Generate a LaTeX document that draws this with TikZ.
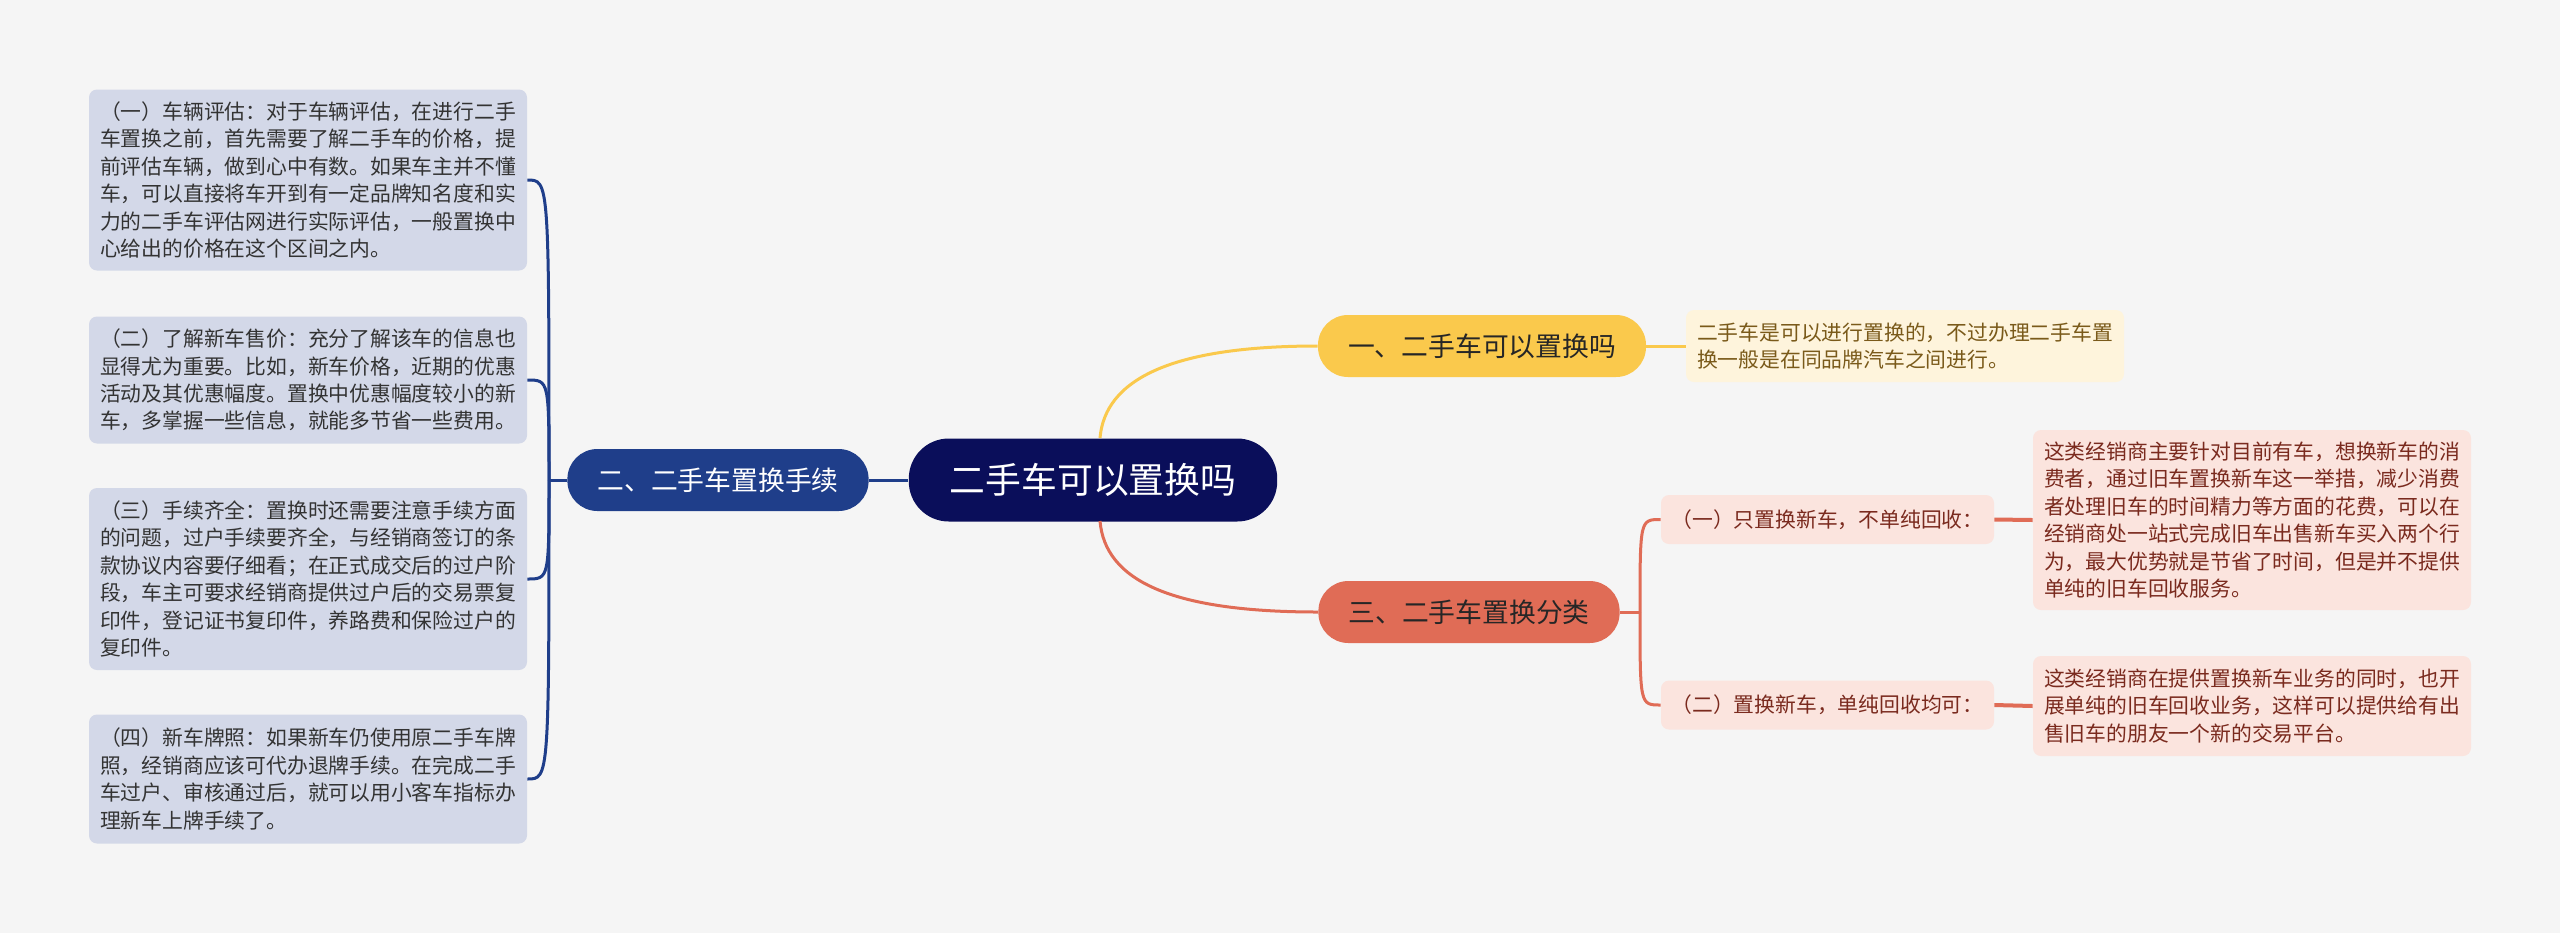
\documentclass[tikz,border=0pt]{standalone}
\usepackage{fontspec}
\setmainfont{Noto Sans CJK SC}
\usetikzlibrary{calc}
\definecolor{bgcol}{HTML}{F5F5F5}
\definecolor{rootcol}{HTML}{0A0E5A}
\definecolor{navycol}{HTML}{1F3E8A}
\definecolor{leafnavy}{HTML}{D3D8E8}
\definecolor{yelcol}{HTML}{FAC94C}
\definecolor{leafyel}{HTML}{FEF4DC}
\definecolor{redcol}{HTML}{E06C56}
\definecolor{leafred}{HTML}{FBE4DE}
\definecolor{txtdark}{HTML}{333333}
\definecolor{txtbrown}{HTML}{7A5A1A}
\definecolor{txtred}{HTML}{7A2A1E}

\begin{document}
\begin{tikzpicture}[x=0.5pt, y=-0.5pt,
  pill/.style={rounded corners=15pt, inner xsep=15pt, minimum height=31pt, font=\fontsize{13.4pt}{16pt}\selectfont},
  leafbox/.style={rounded corners=4pt, inner xsep=5.5pt, inner ysep=0pt, text width=208pt, align=left, font=\fontsize{10.4pt}{13.7pt}\selectfont},
  subbox/.style={rounded corners=4pt, fill=leafred, text=txtred, inner xsep=5.25pt, minimum height=24.5pt, font=\fontsize{10.4pt}{13.7pt}\selectfont},
  navyline/.style={draw=navycol, line width=1.5pt},
  yelline/.style={draw=yelcol, line width=1.5pt},
  redline/.style={draw=redcol, line width=1.5pt}]
	\fill[bgcol] (0,0) rectangle (2560,933);
	\useasboundingbox (0,0) rectangle (2560,933);
	\node[fill=rootcol, text=white, rounded corners=20pt, inner xsep=20.5pt, minimum height=41.5pt, font=\fontsize{17.9pt}{20pt}\selectfont] (root) at (1093,480) {二手车可以置换吗};
	\node[pill, fill=yelcol, text=black!85] (b1) at (1482,346) {一、二手车可以置换吗};
	\node[pill, fill=navycol, text=white] (b2) at (718,480) {二、二手车置换手续};
	\node[pill, fill=redcol, text=black!85] (b3) at (1469,612) {三、二手车置换分类};
	\node[leafbox, fill=leafyel, text=txtbrown, minimum height=36pt] (d1) at (1905,346) {二手车是可以进行置换的，不过办理二手车置\\换一般是在同品牌汽车之间进行。};
	\node[leafbox, fill=leafnavy, text=txtdark, minimum height=90.5pt] (l1) at (308,180) {（一）车辆评估：对于车辆评估，在进行二手\\车置换之前，首先需要了解二手车的价格，提\\前评估车辆，做到心中有数。如果车主并不懂\\车，可以直接将车开到有一定品牌知名度和实\\力的二手车评估网进行实际评估，一般置换中\\心给出的价格在这个区间之内。};
	\node[leafbox, fill=leafnavy, text=txtdark, minimum height=63.5pt] (l2) at (308,380) {（二）了解新车售价：充分了解该车的信息也\\显得尤为重要。比如，新车价格，近期的优惠\\活动及其优惠幅度。置换中优惠幅度较小的新\\车，多掌握一些信息，就能多节省一些费用。};
	\node[leafbox, fill=leafnavy, text=txtdark, minimum height=91pt] (l3) at (308,579) {（三）手续齐全：置换时还需要注意手续方面\\的问题，过户手续要齐全，与经销商签订的条\\款协议内容要仔细看；在正式成交后的过户阶\\段，车主可要求经销商提供过户后的交易票复\\印件，登记证书复印件，养路费和保险过户的\\复印件。};
	\node[leafbox, fill=leafnavy, text=txtdark, minimum height=64.5pt] (l4) at (308,779) {（四）新车牌照：如果新车仍使用原二手车牌\\照，经销商应该可代办退牌手续。在完成二手\\车过户、审核通过后，就可以用小客车指标办\\理新车上牌手续了。};
	\node[subbox] (s1) at (1827.5,519.5) {（一）只置换新车，不单纯回收：};
	\node[subbox] (s2) at (1827.5,705) {（二）置换新车，单纯回收均可：};
	\node[leafbox, fill=leafred, text=txtred, minimum height=90pt] (d31) at (2252,520) {这类经销商主要针对目前有车，想换新车的消\\费者，通过旧车置换新车这一举措，减少消费\\者处理旧车的时间精力等方面的花费，可以在\\经销商处一站式完成旧车出售新车买入两个行\\为，最大优势就是节省了时间，但是并不提供\\单纯的旧车回收服务。};
	\node[leafbox, fill=leafred, text=txtred, minimum height=50pt] (d32) at (2252,706) {这类经销商在提供置换新车业务的同时，也开\\展单纯的旧车回收业务，这样可以提供给有出\\售旧车的朋友一个新的交易平台。};
	\coordinate (rt) at (1100,438);
	\coordinate (rb) at (1100,521);
	\coordinate (lj) at (549,480);
	\coordinate (rj) at (1640,612);
	\draw[yelline] (rt) .. controls (1105,380) and (1170,346) .. (b1.west);
	\draw[yelline] (b1.east) -- (d1.west);
	\draw[redline] (rb) .. controls (1105,580) and (1170,612) .. (b3.west);
	\draw[navyline] (root.west) -- (b2.east);
	\draw[navyline] (b2.west) -- (lj);
	\foreach \leaf in {l1,l2,l3,l4}
		\draw[navyline] (lj) .. controls (lj |- \leaf.east) .. (\leaf.east);
	\draw[redline] (b3.east) -- (rj);
	\foreach \leaf in {s1,s2}
		\draw[redline] (rj) .. controls (rj |- \leaf.west) .. (\leaf.west);
	\draw[redline, line width=2pt] (s1.east) -- (d31.west);
	\draw[redline, line width=2pt] (s2.east) -- (d32.west);
\end{tikzpicture}
\end{document}
